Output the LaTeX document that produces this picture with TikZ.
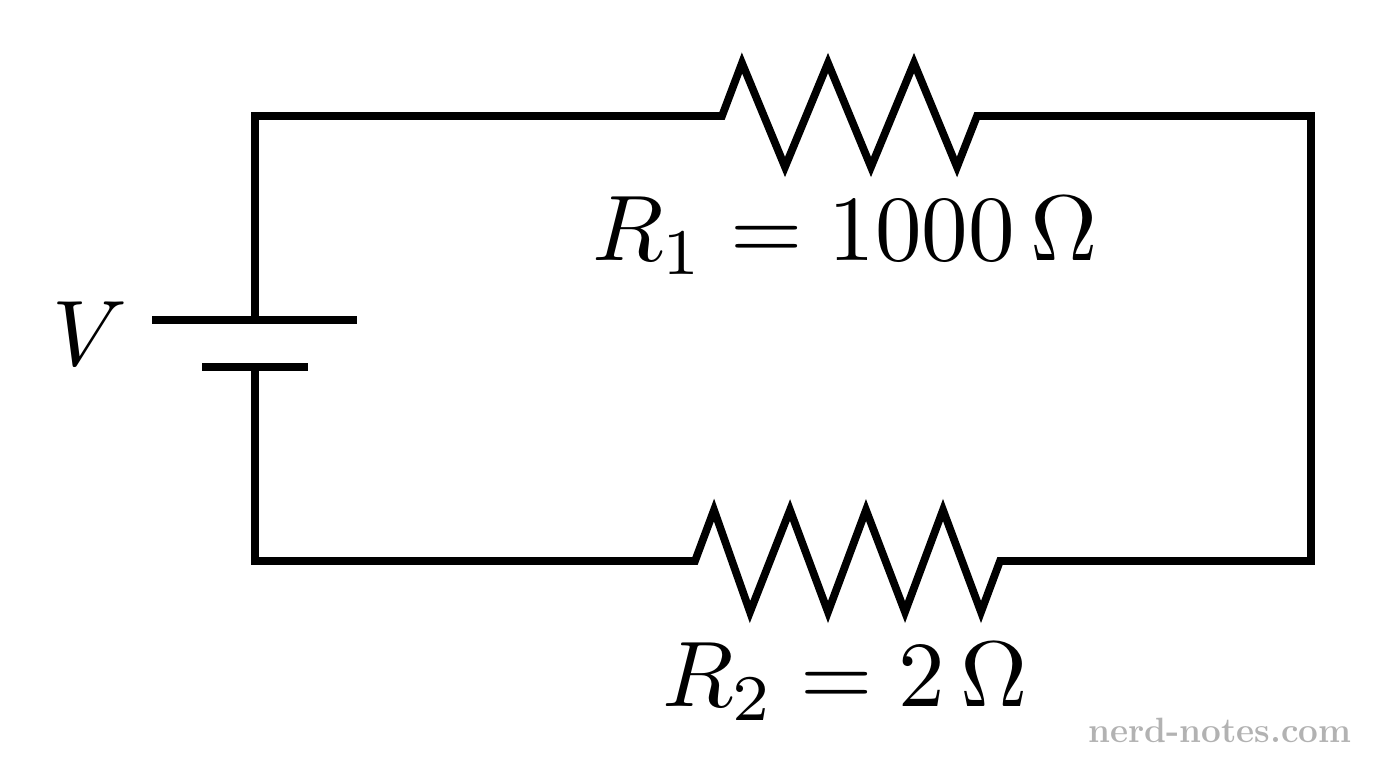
\documentclass[tikz,border=0pt]{standalone}
\usepackage{amsmath}
\begin{document}
\begin{tikzpicture}[x=0.02cm,y=-0.02cm,
  wire/.style={line width=4.4pt, line join=miter, line cap=butt},
  lbl/.style={scale=5.3, transform shape}]
\useasboundingbox (0,0) rectangle (1376,768);
\coordinate (tl) at (255,116);
\coordinate (tr) at (1311,116);
\coordinate (bl) at (255,561);
\coordinate (br) at (1311,561);
\coordinate (bp) at (255,320);
\coordinate (bn) at (255,367);
\draw[wire] (bp) -- (tl) -- (722,116) -- (742,63) -- (785,167) -- (828,63) -- (871,167) -- (914,63) -- (957,167) -- (977,116) -- (tr) -- (br)
  -- (1000,561) -- (981,612) -- (943,510) -- (905,612) -- (866,510) -- (828,612) -- (790,510) -- (750,612) -- (714,510) -- (695,561) -- (bl) -- (bn);
\draw[wire] (152,320) -- (357,320);
\draw[wire] (202,367) -- (308,367);
\node[lbl] (v) at (90,334) {$V$};
\node[lbl] (r1) at (845,236) {$R_1 = 1000\,\Omega$};
\node[lbl] (r2) at (845,682) {$R_2 = 2\,\Omega$};
\node[text=black!30, font=\fontsize{20}{24}\selectfont\bfseries] (wm) at (1220,730) {nerd-notes.com};
\end{tikzpicture}
\end{document}
